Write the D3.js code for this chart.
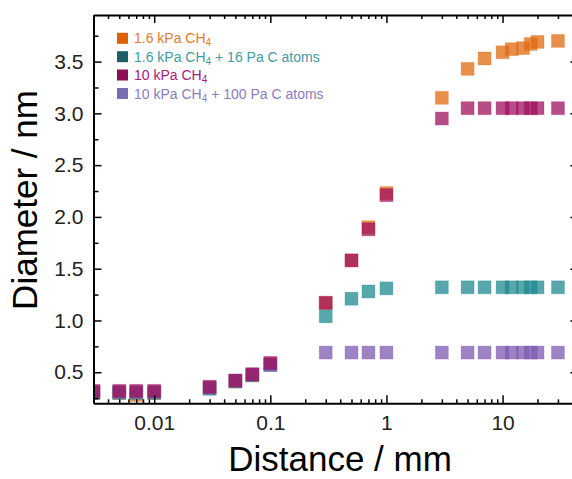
<!DOCTYPE html>
<html>
<head>
<meta charset="utf-8">
<script src="https://cdn.jsdelivr.net/npm/d3@7"></script>
<style>
  html, body { margin: 0; padding: 0; background: #fff; }
  svg { display: block; font-family: Arial, "Liberation Sans", Helvetica, sans-serif; }
</style>
</head>
<body>
<svg id="chart" width="572" height="479"></svg>
<script>
// ---- data ----
const distances = [0.003, 0.005, 0.007, 0.01, 0.03, 0.05, 0.07, 0.1, 0.3, 0.5, 0.7, 1, 3, 5, 7, 10, 12, 15, 17.5, 20, 30];
const seriesNames = ["1.6 kPa CH4", "1.6 kPa CH4 + 16 Pa C atoms", "10 kPa CH4", "10 kPa CH4 + 100 Pa C atoms"];
const orangeVals  = [0.30, 0.30, 0.28, 0.30, 0.35, 0.41, 0.47, 0.58, 1.17, 1.58, 1.90, 2.23, 3.15, 3.43, 3.53, 3.59, 3.62, 3.63, 3.67, 3.69, 3.70];
const tealVals    = [0.30, 0.30, 0.30, 0.30, 0.34, 0.41, 0.47, 0.57, 1.04, 1.21, 1.28, 1.31, 1.32, 1.32, 1.32, 1.32, 1.32, 1.32, 1.32, 1.32, 1.32];
const magentaVals = [0.32, 0.32, 0.32, 0.32, 0.36, 0.42, 0.48, 0.59, 1.17, 1.58, 1.88, 2.21, 2.95, 3.05, 3.05, 3.05, 3.05, 3.05, 3.05, 3.05, 3.05];
const purpleVals  = [0.31, 0.31, 0.31, 0.31, 0.35, 0.42, 0.48, 0.57, 0.69, 0.69, 0.69, 0.69, 0.69, 0.69, 0.69, 0.69, 0.69, 0.69, 0.69, 0.69, 0.69];
const xMajorTicks = [0.01, 0.1, 1, 10];
const xTickLabels = ["0.01", "0.1", "1", "10"];
const yMajorTicks = [0.5, 1.0, 1.5, 2.0, 2.5, 3.0, 3.5];
const yTickLabels = ["0.5", "1.0", "1.5", "2.0", "2.5", "3.0", "3.5"];

// ---- styles ----
const markerColors = ["#e06a10", "#1f8a90", "#a0105e", "#7e5ab0"];
const legendSwatch = ["#e06000", "#1e6068", "#8c0f55", "#7a6cb4"];
const legendText   = ["#e47a2a", "#3f9ca2", "#a8207a", "#8a7cc0"];
const drawOrder = [0, 1, 3, 2];

const svg = d3.select("#chart");
const L = 93.5, R = 578.4, T = 15, B = 403.3;

const x = d3.scaleLog().domain([0.003, 45]).range([L, R]);
const y = d3.scaleLinear().domain([0.2, 3.95]).range([B, T]);

const seriesVals = [orangeVals, tealVals, magentaVals, purpleVals];

// clip
svg.append("defs").append("clipPath").attr("id", "plotclip")
  .append("rect").attr("x", L).attr("y", T).attr("width", R - L).attr("height", B - T);

// markers
const S = 13;
const gMarks = svg.append("g").attr("clip-path", "url(#plotclip)");
drawOrder.forEach(si => {
  const pts = distances.map((d, i) => ({ d, v: seriesVals[si][i] }));
  gMarks.append("g").selectAll("rect").data(pts).join("rect")
    .attr("x", p => x(p.d) - S / 2)
    .attr("y", p => y(p.v) - S / 2)
    .attr("width", S).attr("height", S)
    .attr("fill", markerColors[si]).attr("fill-opacity", 0.75)
    .attr("stroke", markerColors[si]).attr("stroke-opacity", 0.25).attr("stroke-width", 1);
});

// minor ticks
const xMinor = [];
for (let e = -3; e <= 1; e++) for (let k = 2; k <= 9; k++) {
  const v = k * Math.pow(10, e);
  if (v >= 0.003 && v <= 45 && !xMajorTicks.includes(v)) xMinor.push(+v.toPrecision(3));
}
const yMinor = [0.25, 0.75, 1.25, 1.75, 2.25, 2.75, 3.25, 3.75];

function styleAxis(g) {
  g.select(".domain").attr("stroke", "#000").attr("stroke-width", 2);
  g.selectAll(".tick line").attr("stroke", "#000").attr("stroke-width", 1.5);
  g.selectAll(".tick text").attr("fill", "#222").attr("font-size", 21)
    .attr("font-family", "Arial, 'Liberation Sans', sans-serif");
}

// bottom
const gb = svg.append("g").attr("transform", `translate(0,${B})`)
  .call(d3.axisBottom(x).tickValues(xMajorTicks).tickSizeInner(-8).tickSizeOuter(0).tickPadding(12)
    .tickFormat((d, i) => xTickLabels[i]));
styleAxis(gb);
svg.append("g").attr("transform", `translate(0,${B})`)
  .call(d3.axisBottom(x).tickValues(xMinor).tickSizeInner(-4).tickSizeOuter(0).tickFormat(""))
  .call(g => { g.select(".domain").remove(); g.selectAll("line").attr("stroke", "#000").attr("stroke-width", 1.5); });

// top
const gt = svg.append("g").attr("transform", `translate(0,${T})`)
  .call(d3.axisTop(x).tickValues(xMajorTicks).tickSizeInner(-8).tickSizeOuter(0).tickFormat(""));
styleAxis(gt);
svg.append("g").attr("transform", `translate(0,${T})`)
  .call(d3.axisTop(x).tickValues(xMinor).tickSizeInner(-4).tickSizeOuter(0).tickFormat(""))
  .call(g => { g.select(".domain").remove(); g.selectAll("line").attr("stroke", "#000").attr("stroke-width", 1.5); });

// left
const gl = svg.append("g").attr("transform", `translate(${L},0)`)
  .call(d3.axisLeft(y).tickValues(yMajorTicks).tickSizeInner(-8).tickSizeOuter(0).tickPadding(10)
    .tickFormat((d, i) => yTickLabels[i]));
styleAxis(gl);
svg.append("g").attr("transform", `translate(${L},0)`)
  .call(d3.axisLeft(y).tickValues(yMinor).tickSizeInner(-5).tickSizeOuter(0).tickFormat(""))
  .call(g => { g.select(".domain").remove(); g.selectAll("line").attr("stroke", "#000").attr("stroke-width", 1.5); });

// right
const gr = svg.append("g").attr("transform", `translate(${R},0)`)
  .call(d3.axisRight(y).tickValues(yMajorTicks).tickSizeInner(-8).tickSizeOuter(0).tickFormat(""));
styleAxis(gr);
svg.append("g").attr("transform", `translate(${R},0)`)
  .call(d3.axisRight(y).tickValues(yMinor).tickSizeInner(-5).tickSizeOuter(0).tickFormat(""))
  .call(g => { g.select(".domain").remove(); g.selectAll("line").attr("stroke", "#000").attr("stroke-width", 1.5); });

// axis titles
svg.append("text").attr("x", 340).attr("y", 471).attr("text-anchor", "middle")
  .attr("font-size", 35).attr("fill", "#000").text("Distance / mm");
svg.append("text").attr("transform", "translate(37,200) rotate(-90)").attr("text-anchor", "middle")
  .attr("font-size", 35).attr("fill", "#000").text("Diameter / nm");

// legend
const legY = [38.3, 56.7, 75, 93.5];
const leg = svg.append("g");
seriesNames.forEach((name, i) => {
  leg.append("rect").attr("x", 117).attr("y", legY[i] - 5.5).attr("width", 11).attr("height", 11)
    .attr("fill", legendSwatch[i]);
  const t = leg.append("text").attr("x", 134).attr("y", legY[i] + 5).attr("font-size", 14)
    .attr("fill", legendText[i]);
  const m = name.match(/^(.*CH)4(.*)$/);
  t.append("tspan").text(m[1]);
  t.append("tspan").attr("font-size", 10).attr("dy", 3).text("4");
  if (m[2]) t.append("tspan").attr("dy", -3).text(m[2]);
});
</script>
</body>
</html>
